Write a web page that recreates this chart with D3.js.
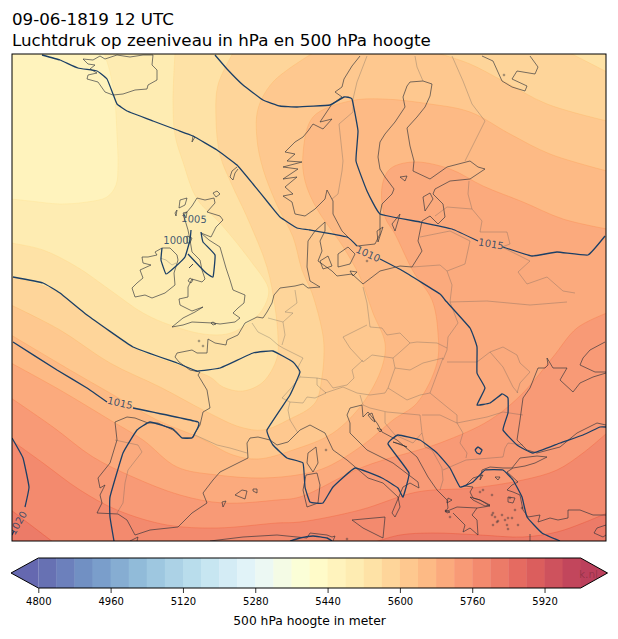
<!DOCTYPE html>
<html lang="nl">
<head>
<meta charset="UTF-8">
<title>Luchtdruk op zeeniveau</title>
<script src="https://cdn.jsdelivr.net/npm/d3@7"></script>
<style>
    html, body { margin: 0; padding: 0; background: #fff; }
    svg { display: block; }
    text { font-family: "DejaVu Sans", sans-serif; }
</style>
</head>
<body>
<div id="chart"></div>
<script>
// all geography below is digitised in map units of the plot frame (x 12-606, y 54-541)
var titleLines = ["09-06-1819 12 UTC", "Luchtdruk op zeeniveau in hPa en 500 hPa hoogte"];
var colorbarLabel = "500 hPa hoogte in meter";
var colorbarTicks = [4800, 4960, 5120, 5280, 5440, 5600, 5760, 5920];
var levelMin = 4800, levelMax = 6000, levelStep = 40;
var backgroundHeight = 5440;

var h5480 = [[[104,53],[110,72],[115,102],[117,135],[118,165],[116,185],[107,197],[87,202],[60,204],[30,201],[11,199]]];
var h5520 = [[[175,53],[173,102],[175,135],[183,162],[197,199],[220,223],[250,260],[268,287],[268,297],[260,313],[243,327],[227,334],[203,334],[170,325],[143,313],[110,290],[77,267],[43,250],[11,243]]];
var h5560 = [[[11,277],[53,290],[87,315],[133,348],[177,365],[210,377],[223,387],[243,391],[263,382],[277,358],[278,337],[275,307],[267,267],[247,217],[232,185],[220,155],[216,119],[218,85],[233,53]],[[570,53],[607,72]]];
var h5600 = [[[11,305],[60,330],[110,363],[160,387],[207,412],[240,427],[263,430],[288,420],[315,403],[322,377],[324,347],[322,330],[312,293],[302,270],[293,237],[277,205],[263,169],[257,139],[258,109],[273,82],[313,53]],[[437,53],[470,64],[503,81],[547,104],[607,121]]];
var h5640 = [[[11,335],[70,370],[110,393],[157,420],[200,438],[233,455],[258,459],[293,450],[333,433],[363,403],[382,367],[385,343],[373,313],[360,277],[342,245],[317,209],[305,181],[303,154],[313,117],[350,101],[383,99],[430,104],[470,112],[510,134],[550,154],[607,171]]];
var h5680 = [[[11,363],[60,390],[110,420],[143,440],[177,467],[217,475],[263,478],[303,474],[327,467],[363,445],[393,420],[417,403],[437,363],[438,333],[432,300],[413,271],[395,234],[385,217],[382,187],[390,169],[413,162],[450,169],[483,186],[523,202],[563,219],[607,229]]];
var h5720 = [[[11,398],[53,427],[93,457],[133,477],[180,495],[223,503],[277,500],[300,497],[363,467],[440,443],[490,420],[523,393],[553,357],[577,328],[607,313]]];
var h5760 = [[[11,440],[43,463],[80,490],[117,510],[167,525],[217,528],[277,523],[300,522],[360,510],[417,492],[473,488],[523,480],[557,470],[583,453],[607,433]]];
var h5800a = [[[11,510],[53,542]]];
var h5800b = [[[375,542],[400,535],[433,533],[480,535],[523,537],[557,532],[583,523],[607,513]]];

// level, lines, frame corners that close the higher side of the contour
var heightContours = [
    [5480, h5480, ["SW", "SE", "NE"]],
    [5520, h5520, ["SW", "SE", "NE"]],
    [5560, h5560, ["SE", "SW"]],
    [5600, h5600, ["SE", "SW"]],
    [5640, h5640, ["SE", "SW"]],
    [5680, h5680, ["SE", "SW"]],
    [5720, h5720, ["SE", "SW"]],
    [5760, h5760, ["SE", "SW"]],
    [5800, h5800a, ["SW"]],
    [5800, h5800b, ["SE"]]
];

var coastlines = [
    // Great Britain
    [[197,198],[205,200],[214,198],[215,203],[207,212],[220,216],[223,220],[216,227],[211,237],[201,233],[209,240],[220,247],[226,268],[230,280],[233,290],[245,295],[244,303],[238,308],[233,313],[240,318],[235,322],[220,324],[213,323],[192,322],[183,325],[172,327],[183,318],[195,312],[203,307],[192,311],[180,305],[179,299],[188,297],[188,287],[192,279],[202,282],[205,279],[202,270],[200,260],[195,255],[192,252],[190,240],[188,230],[185,220],[183,215],[187,212],[192,206],[197,198]],
    // Ireland
    [[162,248],[155,252],[157,255],[148,257],[142,257],[143,263],[151,265],[140,270],[143,278],[137,283],[132,288],[135,297],[145,295],[152,298],[165,293],[175,285],[174,273],[178,260],[177,255],[170,248],[162,248]],
    // Iceland
    [[83,59],[93,60],[100,56],[105,59],[117,55],[130,57],[143,55],[153,55],[152,65],[157,70],[157,80],[148,85],[147,89],[135,90],[123,94],[113,95],[105,92],[98,82],[87,79],[88,75],[97,73],[90,69],[95,65],[88,64],[83,59]],
    // Norway to the Baltic and round to Brittany, Iberia, Italy and Greece
    [[360,56],[352,66],[344,79],[342,87],[335,92],[342,97],[332,104],[320,122],[332,119],[323,129],[313,124],[308,131],[303,137],[295,142],[285,152],[295,154],[287,161],[302,162],[283,167],[298,169],[283,179],[297,177],[285,187],[293,194],[283,196],[292,202],[295,214],[305,216],[315,209],[325,199],[327,190],[333,201],[333,214],[342,231],[350,239],[357,246],[375,244],[380,234],[380,214],[382,204],[392,194],[394,189],[385,177],[380,169],[378,157],[380,142],[385,134],[395,122],[405,107],[403,97],[407,86],[410,82],[423,81],[432,84],[430,96],[425,107],[417,117],[407,128],[410,146],[414,161],[413,171],[430,179],[447,167],[470,161],[478,167],[485,169],[470,179],[450,181],[435,189],[433,194],[443,204],[445,217],[438,224],[430,216],[422,221],[418,241],[422,251],[412,267],[400,266],[380,271],[363,284],[352,274],[337,276],[332,271],[318,261],[322,251],[320,241],[325,231],[325,222],[315,231],[308,241],[307,267],[310,281],[320,287],[308,288],[303,284],[295,286],[280,288],[274,295],[272,303],[267,312],[263,318],[257,317],[245,323],[238,335],[227,340],[226,345],[215,343],[208,339],[207,353],[197,353],[192,350],[177,353],[175,357],[179,362],[190,370],[200,372],[198,375],[207,390],[210,408],[203,412],[200,425],[195,433],[192,438],[182,438],[173,430],[158,423],[148,423],[135,418],[127,417],[115,422],[117,440],[110,463],[98,478],[100,488],[105,485],[100,495],[102,503],[97,513],[118,514],[127,520],[135,535],[150,530],[178,527],[192,513],[207,503],[203,493],[213,480],[220,472],[248,458],[247,443],[250,438],[258,437],[270,440],[277,445],[288,442],[300,430],[310,425],[325,433],[333,450],[347,460],[368,478],[383,483],[398,497],[400,507],[395,517],[392,513],[403,487],[410,483],[419,488],[418,482],[393,463],[367,450],[350,433],[350,423],[347,415],[350,408],[362,405],[363,417],[368,412],[377,423],[382,432],[397,440],[417,457],[428,477],[437,490],[447,500],[448,508],[445,512],[457,507],[477,508],[472,515],[477,520],[478,535],[470,528],[463,532],[465,525],[453,513]],
    // Greek east coast, Thrace, Turkey
    [[477,508],[490,506],[480,500],[473,498],[470,492],[473,487],[465,486],[473,478],[483,475],[480,480],[482,470],[490,467],[503,468],[512,468],[520,458],[537,456],[547,457],[535,463],[525,466],[513,468],[507,472],[518,482],[512,485],[507,490],[513,492],[520,495],[523,510],[528,517],[540,515],[538,522],[550,518],[558,520],[568,518],[568,510],[580,510],[593,515],[606,515]],
    // Black Sea, Crimea and Azov
    [[606,425],[597,423],[577,433],[560,447],[537,453],[527,450],[517,440],[520,420],[523,398],[530,388],[538,368],[545,368],[548,365],[547,358],[553,368],[567,368],[560,380],[573,392],[580,383],[593,377],[606,373]],
    [[606,372],[595,372],[580,365],[583,358],[590,350],[605,342]],
    // White Sea
    [[482,56],[493,61],[502,81],[512,87],[525,91],[527,86],[512,79],[517,71],[535,74],[538,67],[530,56]],
    // North Africa and Turkey south
    [[210,541],[243,537],[277,535],[307,538],[310,533],[327,535],[332,537],[335,536],[333,541]],
    [[130,541],[138,537],[137,541]],
    [[606,525],[597,528],[594,533],[603,537],[606,535]],
    [[530,534],[530,541]],
    // islands
    [[180,200],[187,198],[185,205],[179,208],[180,200]],
    [[175,213],[177,210],[176,216],[175,213]],
    [[183,213],[187,212],[186,218],[183,213]],
    [[187,236],[192,238],[190,243],[187,243],[187,236]],
    [[191,266],[193,264],[189,268],[191,266]],
    [[190,278],[193,280],[191,283],[188,281],[190,278]],
    [[211,323],[213,322],[216,324],[213,325],[211,323]],
    [[213,193],[217,191],[220,194],[216,197],[213,193]],
    [[193,136],[195,137],[192,142],[193,136]],
    [[237,167],[232,171],[230,177],[233,180],[235,173],[238,169]],
    [[320,261],[328,256],[332,266],[323,269],[320,261]],
    [[338,254],[348,247],[355,254],[350,264],[338,267],[338,254]],
    [[350,271],[357,272],[353,276],[350,271]],
    [[392,224],[400,214],[398,221],[395,231],[392,224]],
    [[377,231],[383,227],[378,242],[377,231]],
    [[423,197],[430,193],[433,199],[425,211],[423,197]],
    [[400,177],[407,176],[405,181],[400,177]],
    [[352,520],[385,517],[383,538],[363,528],[352,520]],
    [[306,475],[317,473],[320,485],[318,503],[307,507],[303,490],[306,475]],
    [[316,447],[318,463],[313,472],[307,463],[308,453],[316,447]],
    [[235,495],[242,490],[247,491],[245,499],[240,497],[235,495]],
    [[253,489],[257,489],[257,493],[253,491],[253,489]],
    [[222,502],[226,501],[223,507],[222,502]],
    [[470,497],[480,500],[490,505],[485,506],[473,500],[470,497]],
    [[508,497],[515,498],[513,503],[508,502],[508,497]],
    [[495,477],[500,477],[498,480],[495,477]],
    [[445,510],[450,512],[447,513],[445,510]],
    [[448,498],[452,500],[447,503],[448,498]],
    [[368,415],[372,413],[375,422],[372,420],[368,415]],
    [[377,428],[382,430],[380,432],[377,428]],
    [[393,442],[407,447],[400,444],[393,442]]
];

// small islands too tiny to trace, only their position
var smallIslands = [[199,341],[203,346],[504,75],[367,261],[326,450],[347,539],[450,517],[480,492],[492,495],[483,490],[495,517],[498,521],[493,525],[505,520],[508,518],[518,525],[507,525],[508,529],[497,522],[502,515],[512,518],[522,508],[515,510],[510,498],[493,513],[492,515]];

var borders = [
    [[160,258],[166,260],[172,265],[176,263]],
    [[367,56],[357,82],[353,99],[353,112],[339,124],[343,161],[342,171],[338,194],[332,199]],
    [[415,56],[417,67],[423,81]],
    [[452,56],[463,81],[472,104],[485,121],[470,151],[465,161]],
    [[469,181],[468,194],[472,209],[482,221],[480,232],[507,232],[510,244],[502,247],[530,261],[518,272],[527,284],[547,277],[563,291],[575,293]],
    [[435,216],[447,207],[472,209]],
    [[420,237],[450,231],[470,241],[465,264],[447,271]],
    [[412,267],[440,265],[447,271],[452,285],[450,302],[458,323],[448,337],[447,350],[443,360]],
    [[450,302],[487,301],[530,305],[567,302]],
    [[363,287],[367,303],[370,327],[382,328],[387,335],[400,333],[410,343],[417,342],[437,343],[447,348]],
    [[367,325],[343,337],[350,348],[363,362],[372,355],[393,358],[400,352],[410,343]],
    [[317,378],[327,380],[333,388],[347,385],[354,378],[352,370],[363,360]],
    [[393,358],[395,368],[388,388]],
    [[395,368],[410,370],[423,363],[443,358],[430,393],[447,407],[457,415],[457,423]],
    [[325,393],[343,387],[357,393],[370,395],[385,393],[388,388]],
    [[360,395],[363,405],[370,408],[387,412]],
    [[388,388],[407,400],[420,395],[430,393]],
    [[447,362],[477,362],[490,352],[503,347],[517,355],[520,363],[530,372],[520,383],[517,393]],
    [[490,352],[503,367],[513,387],[518,393]],
    [[457,423],[487,417],[503,412],[523,415]],
    [[385,412],[385,423],[395,435],[413,443],[422,433],[420,415],[387,412]],
    [[422,415],[440,415],[457,423],[463,433],[460,443],[467,453],[466,458]],
    [[422,433],[425,447],[432,450],[442,468],[443,480],[440,490]],
    [[443,470],[466,460],[503,457],[505,448],[508,443],[523,445]],
    [[252,323],[258,332],[270,338],[278,345],[283,348],[303,358],[298,367],[300,377]],
    [[268,318],[283,322],[293,313],[285,312],[297,303],[295,290]],
    [[283,322],[285,335],[282,345]],
    [[282,398],[292,387],[300,377],[317,378],[317,385],[326,393],[315,398],[307,397],[303,403],[290,402],[282,398]],
    [[290,402],[288,410],[290,420],[298,433]],
    [[195,435],[217,445],[230,448],[247,453]],
    [[115,440],[138,445],[142,452],[128,470],[125,483],[123,503],[117,513]]
];

var isobars = [
    // 1010
    [[42,55],[60,60],[78,68],[97,71],[107,79],[113,94],[117,104],[127,111],[153,121],[177,130],[193,136],[217,150],[237,165],[253,184],[270,205],[280,217],[297,228],[310,230],[347,237],[357,246]],
    [[380,259],[403,271],[440,294],[445,300],[470,328],[477,347],[477,373],[485,388],[477,405],[490,403],[502,394],[508,398],[508,413],[503,430],[517,445],[533,453],[560,443],[583,435],[600,427],[606,427]],
    // 1015 upper
    [[215,55],[227,69],[243,85],[263,100],[280,106],[297,107],[330,105],[344,97],[352,99],[358,131],[356,161],[367,191],[380,214],[420,222],[452,229],[478,241]],
    [[503,247],[532,256],[557,252],[588,255],[605,236]],
    // 1010 lower branch
    [[13,277],[43,283],[60,293],[87,315],[133,347],[177,363],[197,371],[220,368],[253,353],[273,351],[293,362],[300,372],[290,395],[267,430],[273,445],[287,458],[303,463],[305,487],[310,502],[323,503],[333,487],[355,468],[382,478],[398,488],[403,497],[409,473],[388,444],[398,435],[420,440],[437,453],[450,468],[460,487],[473,482],[485,470],[503,470],[513,480],[522,497],[527,517],[542,533],[560,541]],
    // 1015 lower
    [[13,342],[57,370],[87,388],[107,402]],
    [[133,408],[198,422],[195,433],[192,438],[182,438],[173,429],[150,422],[137,430],[123,453],[110,497],[110,517],[114,541]],
    // 1020
    [[12,438],[23,458],[29,487],[25,507]],
    [[14,531],[12,535]],
    // 1005
    [[162,248],[161,260],[166,274],[175,267],[185,257],[190,240],[191,230]],
    [[201,232],[203,242],[215,255],[213,277],[205,272],[188,254]],
    // small pieces
    [[475,450],[478,447],[482,450],[480,454],[477,453],[475,450]],
    [[290,541],[300,538],[313,536],[327,538],[332,541]]
];

var isobarLabels = ["1005", "1000", "1010", "1015", "1015", "1020"];
var isobarLabelPos = [[194,219], [176,240], [368,254], [491,244], [120,403], [18,523]];
var isobarLabelAngle = [3, 0, 24, 10, 13, -60];

var width = 618, height = 639;
var svg = d3.select("#chart").append("svg").attr("width", width).attr("height", height);

var frame = { left: 12, right: 606, top: 54, bottom: 541 };
var mapX = d3.scaleLinear().domain([12, 606]).range([frame.left, frame.right]);
var mapY = d3.scaleLinear().domain([54, 541]).range([frame.top, frame.bottom]);

// matplotlib RdYlBu_r is a straight interpolation through the brewer stops
var cmap = d3.scaleLinear()
    .domain(d3.range(11).map(function (i) { return i / 10; }))
    .range(d3.schemeRdYlBu[11].slice().reverse())
    .interpolate(d3.interpolateRgb);

// contourf transparency on white
var fillAlpha = 0.75;
function blended(t) {
    var c = d3.rgb(cmap(t)), w = 255 * (1 - fillAlpha);
    return d3.rgb(c.r * fillAlpha + w, c.g * fillAlpha + w, c.b * fillAlpha + w).formatRgb();
}
function bandT(level) {
    return (level + levelStep / 2 - levelMin) / (levelMax - levelMin);
}

var corners = {
    SW: [frame.left - 2, frame.bottom + 2],
    SE: [frame.right + 2, frame.bottom + 2],
    NE: [frame.right + 2, frame.top - 2]
};

var smooth = d3.line()
    .x(function (d) { return mapX(d[0]); })
    .y(function (d) { return mapY(d[1]); })
    .curve(d3.curveCatmullRom.alpha(0.5));
// isobars have hard kinks where the field was masked, so less overshoot here
var tight = d3.line()
    .x(function (d) { return mapX(d[0]); })
    .y(function (d) { return mapY(d[1]); })
    .curve(d3.curveCardinal.tension(0.7));
var straight = d3.line()
    .x(function (d) { return mapX(d[0]); })
    .y(function (d) { return mapY(d[1]); });

svg.append("clipPath").attr("id", "mapClip").append("rect")
    .attr("x", frame.left).attr("y", frame.top)
    .attr("width", frame.right - frame.left).attr("height", frame.bottom - frame.top);

var map = svg.append("g").attr("clip-path", "url(#mapClip)");

map.append("rect")
    .attr("x", frame.left).attr("y", frame.top)
    .attr("width", frame.right - frame.left).attr("height", frame.bottom - frame.top)
    .attr("fill", blended(bandT(backgroundHeight)));

heightContours.forEach(function (c) {
    var level = c[0], lines = c[1], close = c[2];
    var d = lines.map(function (l, i) {
        var s = smooth(l);
        return i === 0 ? s : "L" + s.slice(1);
    }).join("");
    close.forEach(function (k) { d += "L" + corners[k].join(","); });
    map.append("path").attr("d", d + "Z").attr("fill", blended(bandT(level)));
    map.selectAll(null).data(lines).enter().append("path")
        .attr("d", smooth)
        .attr("fill", "none")
        .attr("stroke", cmap(bandT(level)))
        .attr("stroke-opacity", 0.45)
        .attr("stroke-width", 0.9);
});

map.selectAll(".border").data(borders).enter().append("path")
    .attr("class", "border")
    .attr("d", straight)
    .attr("fill", "none")
    .attr("stroke", "#555")
    .attr("stroke-opacity", 0.38)
    .attr("stroke-width", 0.8);

map.selectAll(".coast").data(coastlines).enter().append("path")
    .attr("class", "coast")
    .attr("d", straight)
    .attr("fill", "none")
    .attr("stroke", "#2b2f38")
    .attr("stroke-opacity", 0.85)
    .attr("stroke-width", 0.75);

map.selectAll(".islet").data(smallIslands).enter().append("circle")
    .attr("class", "islet")
    .attr("cx", function (d) { return mapX(d[0]); })
    .attr("cy", function (d) { return mapY(d[1]); })
    .attr("r", 0.9)
    .attr("fill", "none")
    .attr("stroke", "#2b2f38")
    .attr("stroke-opacity", 0.75)
    .attr("stroke-width", 0.6);

map.selectAll(".isobar").data(isobars).enter().append("path")
    .attr("class", "isobar")
    .attr("d", tight)
    .attr("fill", "none")
    .attr("stroke", "#1b3f66")
    .attr("stroke-width", 1.3);

map.selectAll(".isobarLabel").data(isobarLabels).enter().append("text")
    .attr("class", "isobarLabel")
    .attr("transform", function (d, i) {
        return "translate(" + mapX(isobarLabelPos[i][0]) + "," + mapY(isobarLabelPos[i][1]) + ") rotate(" + isobarLabelAngle[i] + ")";
    })
    .attr("text-anchor", "middle")
    .attr("dy", "0.35em")
    .attr("font-size", 10)
    .attr("fill", "#1b3f66")
    .attr("fill-opacity", 0.85)
    .text(function (d) { return d; });

svg.append("rect")
    .attr("x", frame.left).attr("y", frame.top)
    .attr("width", frame.right - frame.left).attr("height", frame.bottom - frame.top)
    .attr("fill", "none").attr("stroke", "#000").attr("stroke-width", 1);

svg.selectAll(".title").data(titleLines).enter().append("text")
    .attr("class", "title")
    .attr("x", 12)
    .attr("y", function (d, i) { return 25 + i * 21; })
    .attr("font-size", 16.7)
    .attr("fill", "#000")
    .text(function (d) { return d; });

// colorbar
var cb = { top: 558, bottom: 588, tipLeft: 11, tipRight: 607.5 };
var cbX = d3.scaleLinear().domain([levelMin, levelMax]).range([38.3, 580.7]);
var cbMid = (cb.top + cb.bottom) / 2;
var cbLevels = d3.range(levelMin, levelMax, levelStep);

svg.selectAll(".band").data(cbLevels).enter().append("rect")
    .attr("class", "band")
    .attr("x", function (d) { return cbX(d); })
    .attr("y", cb.top)
    .attr("width", function (d) { return cbX(d + levelStep) - cbX(d) + 0.4; })
    .attr("height", cb.bottom - cb.top)
    .attr("fill", function (d) { return blended(bandT(d)); });

svg.append("path")
    .attr("d", "M" + cbX(levelMin) + "," + cb.top + "L" + cb.tipLeft + "," + cbMid + "L" + cbX(levelMin) + "," + cb.bottom + "Z")
    .attr("fill", blended(0));
svg.append("path")
    .attr("d", "M" + cbX(levelMax) + "," + cb.top + "L" + cb.tipRight + "," + cbMid + "L" + cbX(levelMax) + "," + cb.bottom + "Z")
    .attr("fill", blended(1));

// the site mark that shows through the right arrow
svg.append("text")
    .attr("x", 598).attr("y", 577.5)
    .attr("text-anchor", "end")
    .attr("font-size", 10.5)
    .attr("fill", "#000")
    .attr("fill-opacity", 0.22)
    .text("k.nl");

svg.append("path")
    .attr("d", "M" + cbX(levelMin) + "," + cb.top + "L" + cb.tipLeft + "," + cbMid + "L" + cbX(levelMin) + "," + cb.bottom
        + "L" + cbX(levelMax) + "," + cb.bottom + "L" + cb.tipRight + "," + cbMid + "L" + cbX(levelMax) + "," + cb.top + "Z")
    .attr("fill", "none").attr("stroke", "#000").attr("stroke-width", 1);

var cbAxis = svg.append("g")
    .attr("transform", "translate(0," + cb.bottom + ")")
    .call(d3.axisBottom(cbX).tickValues(colorbarTicks).tickSize(5).tickPadding(5).tickFormat(d3.format("d")));
cbAxis.select(".domain").remove();
cbAxis.selectAll("text").attr("font-size", 10).attr("font-family", "DejaVu Sans").attr("fill", "#000");
cbAxis.selectAll("line").attr("stroke", "#000").attr("stroke-width", 0.8);

svg.append("text")
    .attr("x", (cbX(levelMin) + cbX(levelMax)) / 2)
    .attr("y", 625)
    .attr("text-anchor", "middle")
    .attr("font-size", 12.3)
    .attr("fill", "#000")
    .text(colorbarLabel);
</script>
</body>
</html>
